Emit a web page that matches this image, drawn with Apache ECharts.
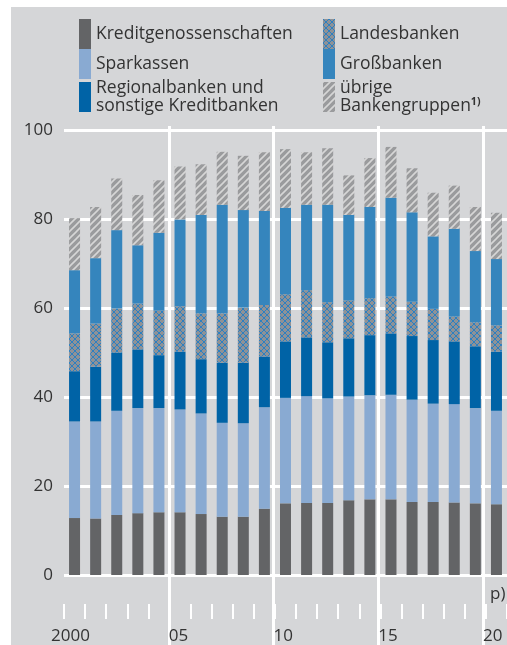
<!DOCTYPE html>
<html>
<head>
<meta charset="utf-8">
<script src="https://cdn.jsdelivr.net/npm/echarts@6/dist/echarts.min.js"></script>
<style>
  html, body { margin: 0; padding: 0; background: #fff; }
  /* grauer Hintergrund der Grafik */
  #bg { position: absolute; left: 11px; top: 7px; width: 496px; height: 638px; background: #d5d6d8; }
  #chart { position: absolute; left: 0; top: 0; width: 507px; height: 645px; }
</style>
</head>
<body>
<div id="bg"></div>
<div id="chart"></div>
<script>
// Jahre (Kategorien)
const years = ['2000', '2001', '2002', '2003', '2004', '2005', '2006', '2007', '2008', '2009',
  '2010', '2011', '2012', '2013', '2014', '2015', '2016', '2017', '2018', '2019', '2020'];

// Werte je Bankengruppe
const kreditgenossenschaften = [12.8, 12.7, 13.5, 13.9, 14.1, 14.1, 13.7, 13.1, 13.1, 14.9, 16.1, 16.2, 16.2, 16.8, 17.0, 17.0, 16.4, 16.4, 16.3, 16.1, 15.9];
const sparkassen = [21.7, 21.8, 23.4, 23.6, 23.4, 23.1, 22.6, 21.1, 21.0, 22.8, 23.7, 24.0, 23.5, 23.3, 23.4, 23.5, 23.0, 22.1, 22.1, 21.4, 21.0];
const regionalbanken = [11.3, 12.3, 13.1, 13.2, 11.9, 13.0, 12.2, 13.5, 13.6, 11.4, 12.7, 13.2, 12.6, 13.1, 13.5, 13.8, 14.3, 14.3, 14.1, 13.9, 13.3];
const landesbanken = [8.5, 9.7, 9.9, 10.3, 10.0, 10.2, 10.3, 11.1, 12.4, 11.6, 10.6, 10.6, 9.0, 8.5, 8.3, 8.3, 7.7, 7.0, 5.6, 5.4, 5.9];
const grossbanken = [14.2, 14.7, 17.6, 13.1, 17.5, 19.5, 22.1, 24.4, 21.9, 21.1, 19.4, 19.2, 21.9, 19.2, 20.5, 22.2, 20.1, 16.3, 19.7, 16.0, 14.9];
const uebrige = [11.7, 11.5, 11.6, 11.3, 11.8, 11.9, 11.4, 11.9, 12.2, 13.2, 13.2, 11.8, 12.7, 8.9, 11.0, 11.4, 9.9, 9.8, 9.7, 9.9, 10.4];

// Achsenbeschriftung: Position (Grenze vor dem Jahr) und Text
const xLabelPos = [0, 5, 10, 15, 20];
const xLabels = ['2000', '05', '10', '15', '20'];

const FONT = '"Open Sans", sans-serif';
const TEXT = '#333';

// Muster: schraffiert (übrige) und Gitter (Landesbanken)
function hatch() {
  const c = document.createElement('canvas');
  c.width = 7; c.height = 7;
  const g = c.getContext('2d');
  g.fillStyle = '#9a9b9d';
  g.fillRect(0, 0, 7, 7);
  g.strokeStyle = '#d6d6d6';
  g.lineWidth = 1.6;
  g.beginPath();
  g.moveTo(-1, 8); g.lineTo(8, -1);
  g.moveTo(-1, 1); g.lineTo(1, -1);
  g.moveTo(6, 8); g.lineTo(8, 6);
  g.stroke();
  return c;
}
function cross() {
  const c = document.createElement('canvas');
  c.width = 6; c.height = 6;
  const g = c.getContext('2d');
  g.fillStyle = '#8f9296';
  g.fillRect(0, 0, 6, 6);
  g.strokeStyle = '#2c80c2';
  g.lineWidth = 1;
  g.beginPath();
  g.moveTo(0, 0); g.lineTo(6, 6);
  g.moveTo(6, 0); g.lineTo(0, 6);
  g.stroke();
  return c;
}

const chart = echarts.init(document.getElementById('chart'));

function bar(name, data, color) {
  return {
    name: name,
    type: 'bar',
    stack: 'summe',
    barWidth: 11,
    xAxisIndex: 0,
    yAxisIndex: 0,
    data: data,
    itemStyle: { color: color },
    emphasis: { disabled: true }
  };
}

const legendText = { fontSize: 17.5, color: TEXT, fontFamily: FONT, lineHeight: 18,
  rich: { sup: { fontSize: 10.5, fontWeight: 'bold', color: TEXT, fontFamily: FONT, verticalAlign: 'top', lineHeight: 18 } } };

const option = {
  animation: false,
  backgroundColor: 'transparent',
  textStyle: { fontFamily: FONT },
  legend: [
    {
      data: ['Kreditgenossenschaften', 'Sparkassen', 'Regionalbanken und sonstige Kreditbanken'],
      left: 79, top: 19, orient: 'vertical', icon: 'rect',
      itemWidth: 12, itemHeight: 30, itemGap: 0, padding: 0,
      selectedMode: false,
      formatter: n => n.replace(' und ', ' und\n'),
      textStyle: legendText
    },
    {
      data: ['Landesbanken', 'Großbanken', 'übrige Bankengruppen'],
      left: 323, top: 19, orient: 'vertical', icon: 'rect',
      itemWidth: 12, itemHeight: 30, itemGap: 0, padding: 0,
      selectedMode: false,
      formatter: n => n === 'übrige Bankengruppen' ? 'übrige\nBankengruppen{sup|1)}' : n,
      textStyle: legendText
    }
  ],
  grid: [
    { left: 64, right: 0, top: 130, bottom: 70 },
    { left: 64, right: 0, top: 126, bottom: 0 }    // nur für die senkrechten Linien + Jahre
  ],
  xAxis: [
    {
      type: 'category', gridIndex: 0, data: years,
      axisLine: { show: false },
      axisTick: { show: false },
      axisLabel: { show: false }
    },
    {
      type: 'value', gridIndex: 1, min: 0, max: 21, interval: 5,
      axisLine: { show: false },
      axisTick: { show: false },
      splitLine: { show: true, showMinLine: false, showMaxLine: false, lineStyle: { color: '#fff', width: 3 } },
      axisLabel: {
        inside: true, margin: 0, align: 'left', alignMinLabel: 'center',
        fontSize: 17, color: TEXT, fontFamily: FONT,
        formatter: v => {
          const i = xLabelPos.indexOf(v);
          if (i < 0) return '';
          return i === 0 ? '{first|' + xLabels[i] + '}' : xLabels[i];
        },
        rich: { first: { fontSize: 17, color: TEXT, fontFamily: FONT, padding: [0, 0, 0, 13] } }
      }
    },
    {
      // kurze Striche an den Jahresgrenzen
      type: 'value', gridIndex: 0, min: 0, max: 21, interval: 1,
      position: 'bottom', offset: 29,
      axisLine: { show: true, onZero: false, lineStyle: { color: 'rgba(0,0,0,0)' } },
      axisTick: { show: true, length: 15, lineStyle: { color: '#fff', width: 2 } },
      axisLabel: { show: false },
      splitLine: { show: false }
    }
  ],
  yAxis: [
    {
      type: 'value', gridIndex: 0, min: 0, max: 100, interval: 20,
      axisLine: { show: false },
      axisTick: { show: false },
      axisLabel: { fontSize: 17, color: TEXT, margin: 11, fontFamily: FONT },
      splitLine: { lineStyle: { color: '#fff', width: 3 } }
    },
    { type: 'value', gridIndex: 1, show: false, splitLine: { show: false } }
  ],
  graphic: [
    { type: 'text', left: 490, top: 586, style: { text: 'p)', fontSize: 17, fill: TEXT, fontFamily: FONT } }
  ],
  series: [
    bar('Kreditgenossenschaften', kreditgenossenschaften, '#636466'),
    bar('Sparkassen', sparkassen, '#89aad2'),
    bar('Regionalbanken und sonstige Kreditbanken', regionalbanken, '#0063a6'),
    bar('Landesbanken', landesbanken, { image: cross(), repeat: 'repeat' }),
    bar('Großbanken', grossbanken, '#3585bd'),
    bar('übrige Bankengruppen', uebrige, { image: hatch(), repeat: 'repeat' })
  ]
};

chart.setOption(option);
</script>
</body>
</html>
